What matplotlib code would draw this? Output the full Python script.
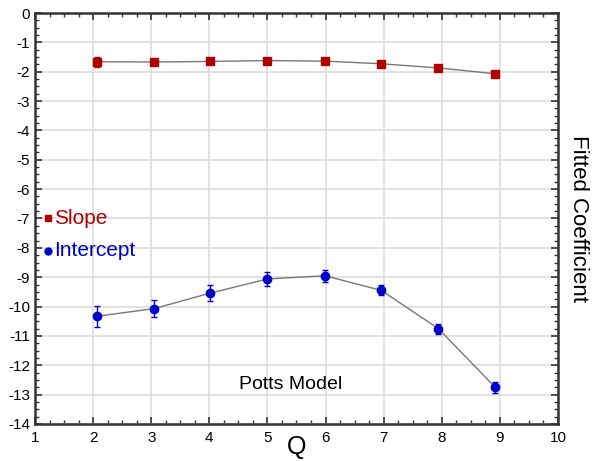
import matplotlib
matplotlib.use("Agg")
import matplotlib.pyplot as plt
from matplotlib.ticker import MultipleLocator

plt.rcParams['font.family'] = ['Liberation Sans', 'DejaVu Sans']
plt.rcParams['axes.unicode_minus'] = False

# data
q = [2.07, 3.05, 4.02, 5.0, 5.99, 6.96, 7.94, 8.92]
slope = [-1.66, -1.67, -1.65, -1.62, -1.64, -1.73, -1.87, -2.07]
slope_err = [0.17, 0.08, 0.08, 0.06, 0.05, 0.05, 0.05, 0.05]
intercept = [-10.33, -10.07, -9.54, -9.06, -8.95, -9.45, -10.75, -12.75]
intercept_err = [0.35, 0.29, 0.27, 0.24, 0.2, 0.17, 0.17, 0.19]

red = '#b00000'
blue = '#0000c8'

fig = plt.figure(figsize=(5.96, 4.61), dpi=100)
ax = fig.add_axes([0.0587, 0.0803, 0.8775, 0.8915])

ax.plot(q, slope, color='#777777', lw=1, zorder=2)
ax.errorbar(q, slope, yerr=slope_err, fmt='s', color=red, ms=6, capsize=2,
            elinewidth=1, zorder=3)
ax.plot(q, intercept, color='#777777', lw=1, zorder=2)
ax.errorbar(q, intercept, yerr=intercept_err, fmt='o', color=blue, ms=6,
            capsize=2, elinewidth=1, zorder=3)

ax.set_xlim(1, 10)
ax.set_ylim(-14, 0)
ax.xaxis.set_major_locator(MultipleLocator(1))
ax.xaxis.set_minor_locator(MultipleLocator(0.25))
ax.yaxis.set_major_locator(MultipleLocator(1))
ax.yaxis.set_minor_locator(MultipleLocator(0.25))
ax.grid(True, which='major', color='#dddddd', lw=1.2, zorder=0)
ax.set_axisbelow(True)
ax.tick_params(which='both', direction='in', top=True, right=True,
               labelsize=11, color='#333333')
ax.tick_params(which='major', length=5, width=1.2)
ax.tick_params(which='minor', length=3, width=1)
ax.tick_params(axis='x', pad=5)
for s in ax.spines.values():
    s.set_linewidth(1.8)
    s.set_color('#333333')

ax.set_xlabel('Q', fontsize=18, labelpad=-7)
ax.yaxis.set_label_position('right')
ax.set_ylabel('Fitted Coefficient', fontsize=16, rotation=-90, labelpad=22)
ax.tick_params(axis='y', labelright=False, labelleft=True)

ax.text(5.4, -12.65, 'Potts Model', fontsize=14, ha='center', va='center')

# hand-placed legend
ax.plot([1.23], [-7.0], 's', color=red, ms=5)
ax.text(1.33, -7.0, 'Slope', color=red, fontsize=15, va='center')
ax.plot([1.23], [-8.1], 'o', color=blue, ms=5)
ax.text(1.33, -8.1, 'Intercept', color=blue, fontsize=15, va='center')

fig.savefig('out.png', dpi=100)
